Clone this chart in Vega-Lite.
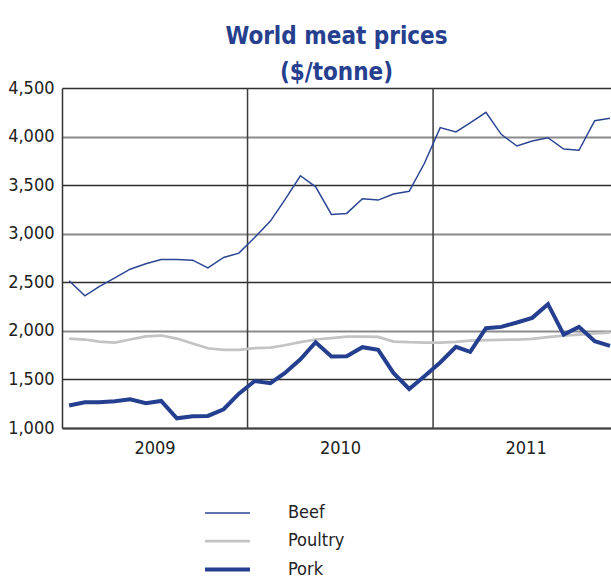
{
  "$schema": "https://vega.github.io/schema/vega-lite/v6.json",
  "width": 549,
  "height": 340,
  "autosize": {"type": "none"},
  "padding": {"left": 62, "top": 88, "right": 0, "bottom": 150},
  "background": "white",
  "title": {
    "text": ["World meat prices", "($/tonne)"],
    "font": "Liberation Sans Narrow, DejaVu Sans Condensed, Roboto Condensed, Arial Narrow, sans-serif",
    "fontSize": 24,
    "fontWeight": "bold",
    "color": "#26408f",
    "lineHeight": 36,
    "anchor": "middle",
    "offset": -6
  },
  "config": {
    "view": {"stroke": null},
    "axis": {"labelFont": "Liberation Sans Narrow, DejaVu Sans Condensed, Roboto Condensed, Arial Narrow, sans-serif", "labelFontSize": 18, "labelColor": "#222222"}
  },
  "datasets": {
    "prices": [
      {"date": "2009-01-15", "Beef": 2515, "Poultry": 1921, "Pork": 1231},
      {"date": "2009-02-15", "Beef": 2360, "Poultry": 1911, "Pork": 1265},
      {"date": "2009-03-15", "Beef": 2455, "Poultry": 1890, "Pork": 1265},
      {"date": "2009-04-15", "Beef": 2545, "Poultry": 1880, "Pork": 1275},
      {"date": "2009-05-15", "Beef": 2635, "Poultry": 1911, "Pork": 1296},
      {"date": "2009-06-15", "Beef": 2690, "Poultry": 1942, "Pork": 1255},
      {"date": "2009-07-15", "Beef": 2735, "Poultry": 1952, "Pork": 1278},
      {"date": "2009-08-15", "Beef": 2735, "Poultry": 1921, "Pork": 1100},
      {"date": "2009-09-15", "Beef": 2728, "Poultry": 1870, "Pork": 1121},
      {"date": "2009-10-15", "Beef": 2649, "Poultry": 1821, "Pork": 1124},
      {"date": "2009-11-15", "Beef": 2756, "Poultry": 1804, "Pork": 1193},
      {"date": "2009-12-15", "Beef": 2800, "Poultry": 1804, "Pork": 1354},
      {"date": "2010-01-15", "Beef": 2962, "Poultry": 1821, "Pork": 1484},
      {"date": "2010-02-15", "Beef": 3130, "Poultry": 1828, "Pork": 1461},
      {"date": "2010-03-15", "Beef": 3346, "Poultry": 1852, "Pork": 1564},
      {"date": "2010-04-15", "Beef": 3597, "Poultry": 1883, "Pork": 1708},
      {"date": "2010-05-15", "Beef": 3483, "Poultry": 1911, "Pork": 1883},
      {"date": "2010-06-15", "Beef": 3199, "Poultry": 1925, "Pork": 1736},
      {"date": "2010-07-15", "Beef": 3209, "Poultry": 1940, "Pork": 1739},
      {"date": "2010-08-15", "Beef": 3360, "Poultry": 1940, "Pork": 1832},
      {"date": "2010-09-15", "Beef": 3346, "Poultry": 1938, "Pork": 1804},
      {"date": "2010-10-15", "Beef": 3408, "Poultry": 1890, "Pork": 1567},
      {"date": "2010-11-15", "Beef": 3436, "Poultry": 1883, "Pork": 1402},
      {"date": "2010-12-15", "Beef": 3725, "Poultry": 1880, "Pork": 1533},
      {"date": "2011-01-15", "Beef": 4092, "Poultry": 1880, "Pork": 1674},
      {"date": "2011-02-15", "Beef": 4047, "Poultry": 1887, "Pork": 1835},
      {"date": "2011-03-15", "Beef": 4140, "Poultry": 1900, "Pork": 1783},
      {"date": "2011-04-15", "Beef": 4250, "Poultry": 1904, "Pork": 2027},
      {"date": "2011-05-15", "Beef": 4023, "Poultry": 1907, "Pork": 2041},
      {"date": "2011-06-15", "Beef": 3903, "Poultry": 1911, "Pork": 2086},
      {"date": "2011-07-15", "Beef": 3954, "Poultry": 1917, "Pork": 2134},
      {"date": "2011-08-15", "Beef": 3988, "Poultry": 1935, "Pork": 2275},
      {"date": "2011-09-15", "Beef": 3872, "Poultry": 1952, "Pork": 1962},
      {"date": "2011-10-15", "Beef": 3859, "Poultry": 1962, "Pork": 2041},
      {"date": "2011-11-15", "Beef": 4164, "Poultry": 1973, "Pork": 1893},
      {"date": "2011-12-15", "Beef": 4188, "Poultry": 1983, "Pork": 1845}
    ],
    "years": [
      {"date": "2010-01-01"},
      {"date": "2011-01-01"}
    ]
  },
  "encoding": {
    "x": {
      "field": "date",
      "type": "temporal",
      "scale": {
        "type": "utc",
        "domain": [
          {"year": 2009, "month": 1, "date": 1, "utc": true},
          {"year": 2011, "month": 12, "date": 17, "utc": true}
        ]
      },
      "axis": {
        "title": null,
        "values": [
          {"year": 2009, "month": 7, "date": 2, "utc": true},
          {"year": 2010, "month": 7, "date": 2, "utc": true},
          {"year": 2011, "month": 7, "date": 2, "utc": true}
        ],
        "format": "%Y",
        "ticks": false,
        "grid": false,
        "domainColor": "#444444",
        "domainWidth": 2,
        "labelPadding": 11
      }
    }
  },
  "layer": [
    {
      "data": {"name": "years"},
      "mark": {"type": "rule", "color": "#3c3c3c", "strokeWidth": 1.5}
    },
    {
      "data": {"name": "prices"},
      "transform": [{"fold": ["Beef", "Poultry", "Pork"], "as": ["series", "price"]}],
      "mark": {"type": "line", "strokeJoin": "miter", "strokeCap": "butt"},
      "encoding": {
        "y": {
          "field": "price",
          "type": "quantitative",
          "scale": {"domain": [1000, 4500], "nice": false, "zero": false},
          "axis": {
            "title": null,
            "values": [1000, 1500, 2000, 2500, 3000, 3500, 4000, 4500],
            "format": ",.0f",
            "ticks": false,
            "labelPadding": 8,
            "domainColor": "#333333",
            "domainWidth": 1.5,
            "gridColor": {"condition": {"test": "datum.value % 1000 === 0", "value": "#8a8a8a"}, "value": "#2e2e2e"},
            "gridWidth": {"condition": {"test": "datum.value % 1000 === 0", "value": 2.2}, "value": 1.3}
          }
        },
        "color": {
          "field": "series",
          "type": "nominal",
          "scale": {"domain": ["Beef", "Poultry", "Pork"], "range": ["#2b4594", "#c3c3c5", "#243f8f"]},
          "legend": {
            "orient": "none",
            "legendX": 152,
            "legendY": 413,
            "title": null,
            "symbolType": "M-2,0H2",
            "symbolSize": 506,
            "labelOffset": 47,
            "labelFont": "Liberation Sans Narrow, DejaVu Sans Condensed, Roboto Condensed, Arial Narrow, sans-serif",
            "labelFontSize": 18,
            "labelColor": "#222222",
            "rowPadding": 6
          }
        },
        "strokeWidth": {
          "field": "series",
          "type": "ordinal",
          "scale": {"domain": ["Beef", "Poultry", "Pork"], "range": [1.5, 4, 4]},
          "legend": {
            "orient": "none",
            "legendX": 152,
            "legendY": 413,
            "title": null,
            "symbolType": "M-2,0H2",
            "symbolSize": 506,
            "labelOffset": 47,
            "labelFont": "Liberation Sans Narrow, DejaVu Sans Condensed, Roboto Condensed, Arial Narrow, sans-serif",
            "labelFontSize": 18,
            "labelColor": "#222222",
            "rowPadding": 6
          }
        }
      }
    }
  ]
}
